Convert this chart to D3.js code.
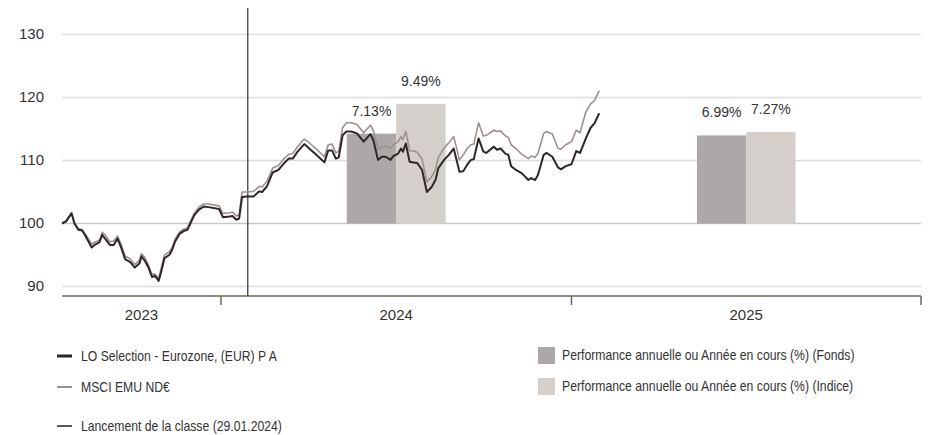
<!DOCTYPE html>
<html>
<head>
<meta charset="utf-8">
<script src="https://cdn.jsdelivr.net/npm/d3@7"></script>
<style>
  body { margin: 0; background: #fff; }
  .tick-label { font-family: "Liberation Sans", Arial, sans-serif; font-size: 15px; fill: #333; }
  .perf-label { font-family: "Liberation Sans", Arial, sans-serif; font-size: 14px; fill: #333; }
  .legend { font-family: "Liberation Sans", Arial, sans-serif; font-size: 14px; fill: #333; }
</style>
</head>
<body>
<div id="chart"></div>
<script>
// weekly points
var dates = ["2023-07-19","2023-07-23","2023-07-29","2023-08-01","2023-08-05","2023-08-09","2023-08-13","2023-08-19","2023-08-23","2023-08-27",
  "2023-08-30","2023-09-02","2023-09-07","2023-09-11","2023-09-15","2023-09-19","2023-09-23","2023-09-28","2023-10-03","2023-10-08",
  "2023-10-10","2023-10-13","2023-10-17","2023-10-21","2023-10-24","2023-10-28","2023-10-31","2023-11-03","2023-11-08","2023-11-11",
  "2023-11-14","2023-11-19","2023-11-23","2023-11-27","2023-11-30","2023-12-04","2023-12-09","2023-12-14","2023-12-19","2023-12-30",
  "2024-01-03","2024-01-10","2024-01-13","2024-01-17","2024-01-20","2024-01-23","2024-01-28","2024-02-04","2024-02-10","2024-02-13",
  "2024-02-18","2024-02-24","2024-03-01","2024-03-07","2024-03-12","2024-03-16","2024-03-21","2024-03-28","2024-04-03","2024-04-09",
  "2024-04-18","2024-04-22","2024-04-26","2024-04-30","2024-05-03","2024-05-07","2024-05-11","2024-05-16","2024-05-22","2024-05-29",
  "2024-06-05","2024-06-08","2024-06-13","2024-06-17","2024-06-21","2024-06-26","2024-06-29","2024-07-04","2024-07-07","2024-07-09",
  "2024-07-12","2024-07-16","2024-07-20","2024-07-24","2024-07-29","2024-08-03","2024-08-08","2024-08-12","2024-08-15","2024-08-21",
  "2024-08-26","2024-08-31","2024-09-03","2024-09-06","2024-09-10","2024-09-14","2024-09-18","2024-09-21","2024-09-26","2024-10-01",
  "2024-10-04","2024-10-12","2024-10-15","2024-10-19","2024-10-24","2024-10-27","2024-10-30","2024-11-04","2024-11-10","2024-11-17",
  "2024-11-20","2024-11-24","2024-11-27","2024-12-03","2024-12-06","2024-12-12","2024-12-18","2024-12-21","2024-12-26","2025-01-01",
  "2025-01-06","2025-01-10","2025-01-16","2025-01-21","2025-01-25","2025-01-30"];

var fundValues = [100.0,100.3,101.6,100.0,99.0,98.9,97.9,96.2,96.7,97.0,
  98.2,97.6,96.6,96.6,97.6,96.1,94.3,93.9,93.0,93.7,
  94.8,94.2,93.1,91.5,91.7,90.9,92.6,94.5,95.0,95.8,
  97.1,98.4,98.8,99.0,100.0,101.3,102.2,102.7,102.6,102.3,
  101.0,101.1,101.2,100.6,100.8,104.2,104.3,104.3,105.1,105.0,
  105.9,108.1,108.5,109.6,110.3,110.3,111.4,112.6,111.8,111.0,
  109.7,111.6,111.6,110.3,110.5,114.0,114.6,114.6,114.3,113.0,
  114.2,113.3,110.1,110.6,110.6,110.1,110.7,111.1,111.9,111.4,
  112.7,109.8,109.7,109.6,108.5,105.0,105.8,106.9,108.8,110.1,
  110.9,111.9,110.1,108.2,108.3,109.3,110.1,110.2,113.5,111.4,
  111.2,112.2,111.7,111.9,111.1,110.9,109.1,108.5,108.0,106.9,
  107.2,106.9,107.7,110.9,111.2,110.6,108.9,108.6,109.1,109.4,
  111.5,111.2,113.5,115.2,115.9,117.5];

var indexValues = [100.1,100.4,101.7,100.1,99.2,99.1,98.2,96.7,97.1,97.3,
  98.6,98.2,97.1,97.2,98.0,96.6,94.8,94.4,93.5,94.2,
  95.2,94.7,93.5,91.9,92.0,91.3,93.2,95.0,95.5,96.2,
  97.5,98.7,99.1,99.3,100.3,101.6,102.6,103.1,103.1,102.8,
  101.6,101.7,101.8,101.2,101.4,105.0,105.0,105.1,105.9,105.8,
  106.7,108.8,109.2,110.3,111.0,111.1,112.2,113.4,112.7,111.9,
  110.6,112.5,112.6,111.2,111.5,115.2,116.0,116.0,115.7,114.4,
  115.6,114.8,111.8,112.1,112.3,111.9,112.5,113.0,113.8,113.3,
  114.6,111.6,111.5,111.3,110.2,106.6,107.4,108.6,110.5,112.0,
  112.8,113.8,112.0,110.1,110.9,111.9,112.5,112.6,116.0,113.9,
  114.0,114.8,114.6,114.7,113.9,113.7,112.5,111.9,111.0,110.3,
  110.7,110.5,111.1,114.3,114.6,114.2,111.9,111.8,112.5,113.0,
  114.8,114.4,117.7,119.0,119.5,121.1];

var barYears = [2024, 2025];
var fundPerf = [7.13, 6.99];
var indexPerf = [9.49, 7.27];
var axisYears = [2023, 2024, 2025];
var yTicks = [90, 100, 110, 120, 130];
var launchDate = "2024-01-29";

var seriesNames = ["LO Selection - Eurozone, (EUR) P A", "MSCI EMU ND€"];
var barNames = ["Performance annuelle ou Année en cours (%) (Fonds)", "Performance annuelle ou Année en cours (%) (Indice)"];
var launchName = "Lancement de la classe (29.01.2024)";

var fundColor = "#2f2727", indexColor = "#9c918c";
var fundBarColor = "#aca8a7", indexBarColor = "#d4cfcb";

var chartWidth = 928, chartHeight = 435;
var plotLeft = 62, plotRight = 921, plotTop = 34.5, plotBottom = 286.5, axisY = 296;
var legendSquash = 0.873; // legend font in the picture is a condensed face

var parse = d3.timeParse("%Y-%m-%d");
var svg = d3.select("#chart").append("svg")
  .attr("width", chartWidth)
  .attr("height", chartHeight);

var x = d3.scaleTime()
  .domain([parse("2023-07-19"), parse("2026-01-01")])
  .range([plotLeft, plotRight]);

var y = d3.scaleLinear().domain([90, 130]).range([plotBottom, plotTop]);
// bars use their own scale: 15% spans 100 -> 130
var yPerf = d3.scaleLinear().domain([0, 15]).range([y(100), y(130)]);

// gridlines
svg.append("g").selectAll("line")
  .data(yTicks)
  .join("line")
  .attr("x1", plotLeft).attr("x2", plotRight)
  .attr("y1", d => y(d)).attr("y2", d => y(d))
  .attr("stroke", d => d == 100 ? "#c6c6c6" : "#dcdcdc")
  .attr("stroke-width", 1.6);

svg.append("g").selectAll("text")
  .data(yTicks)
  .join("text")
  .attr("class", "tick-label")
  .attr("x", 44)
  .attr("y", d => y(d) + 4.5)
  .attr("text-anchor", "end")
  .text(d => d);

// bars
var yearStart = yr => x(parse(yr + "-01-01"));
var bars = svg.append("g");
barYears.forEach(function (yr, i) {
  var x0 = yearStart(yr), x1 = yearStart(yr + 1);
  var c = (x0 + x1) / 2, w = (x1 - x0) * 0.141;
  var band = d3.scaleBand().domain(["fund", "index"]).range([c - w, c + w]);
  var vals = [{ k: "fund", v: fundPerf[i], col: fundBarColor }, { k: "index", v: indexPerf[i], col: indexBarColor }];
  bars.selectAll(null)
    .data(vals)
    .join("rect")
    .attr("x", d => band(d.k))
    .attr("width", band.bandwidth())
    .attr("y", d => yPerf(d.v))
    .attr("height", d => yPerf(0) - yPerf(d.v))
    .attr("fill", d => d.col);
  bars.selectAll(null)
    .data(vals)
    .join("text")
    .attr("class", "perf-label")
    .attr("x", d => band(d.k) + band.bandwidth() / 2)
    .attr("y", d => yPerf(d.v) - 18)
    .attr("text-anchor", "middle")
    .text(d => d.v.toFixed(2) + "%");
});

// x axis
svg.append("line")
  .attr("x1", plotLeft).attr("x2", plotRight)
  .attr("y1", axisY).attr("y2", axisY)
  .attr("stroke", "#646a55").attr("stroke-width", 1.6);

svg.append("g").selectAll("line")
  .data(axisYears.map(d => d + 1))
  .join("line")
  .attr("x1", d => yearStart(d)).attr("x2", d => yearStart(d))
  .attr("y1", axisY).attr("y2", axisY + 9)
  .attr("stroke", "#646a55").attr("stroke-width", 1.5);

svg.append("g").selectAll("text")
  .data(axisYears)
  .join("text")
  .attr("class", "tick-label")
  .attr("x", d => (Math.max(yearStart(d), plotLeft) + Math.min(yearStart(d + 1), plotRight)) / 2)
  .attr("y", 320)
  .attr("text-anchor", "middle")
  .text(d => d);

// launch line
svg.append("line")
  .attr("x1", x(parse(launchDate))).attr("x2", x(parse(launchDate)))
  .attr("y1", 8).attr("y2", axisY)
  .attr("stroke", "#333").attr("stroke-width", 1.2);

// lines
var fundData = dates.map((d, i) => ({ date: parse(d), value: fundValues[i] }));
var indexData = dates.map((d, i) => ({ date: parse(d), value: indexValues[i] }));
var valueLine = d3.line().x(d => x(d.date)).y(d => y(d.value));

svg.append("path")
  .datum(indexData)
  .attr("fill", "none")
  .attr("stroke", indexColor)
  .attr("stroke-width", 1.6)
  .attr("stroke-linejoin", "round")
  .attr("d", valueLine);

svg.append("path")
  .datum(fundData)
  .attr("fill", "none")
  .attr("stroke", fundColor)
  .attr("stroke-width", 2)
  .attr("stroke-linejoin", "round")
  .attr("d", valueLine);

// legend
var leg = svg.append("g");
function legendText(tx, ty, str) {
  leg.append("text")
    .attr("class", "legend")
    .attr("transform", "translate(" + tx + "," + ty + ") scale(" + legendSquash + ",1)")
    .text(str);
}
var lineItems = [
  { name: seriesNames[0], col: fundColor, w: 3, ly: 356 },
  { name: seriesNames[1], col: indexColor, w: 2, ly: 387 },
  { name: launchName, col: "#222", w: 1.5, ly: 426 }
];
lineItems.forEach(function (it) {
  leg.append("line")
    .attr("x1", 57).attr("x2", 72)
    .attr("y1", it.ly).attr("y2", it.ly)
    .attr("stroke", it.col).attr("stroke-width", it.w);
  legendText(81, it.ly + 5, it.name);
});
var barItems = [
  { name: barNames[0], col: fundBarColor, ly: 347 },
  { name: barNames[1], col: indexBarColor, ly: 378 }
];
barItems.forEach(function (it) {
  leg.append("rect")
    .attr("x", 538).attr("y", it.ly)
    .attr("width", 17).attr("height", 17)
    .attr("fill", it.col);
  legendText(562, it.ly + 13, it.name);
});
</script>
</body>
</html>
